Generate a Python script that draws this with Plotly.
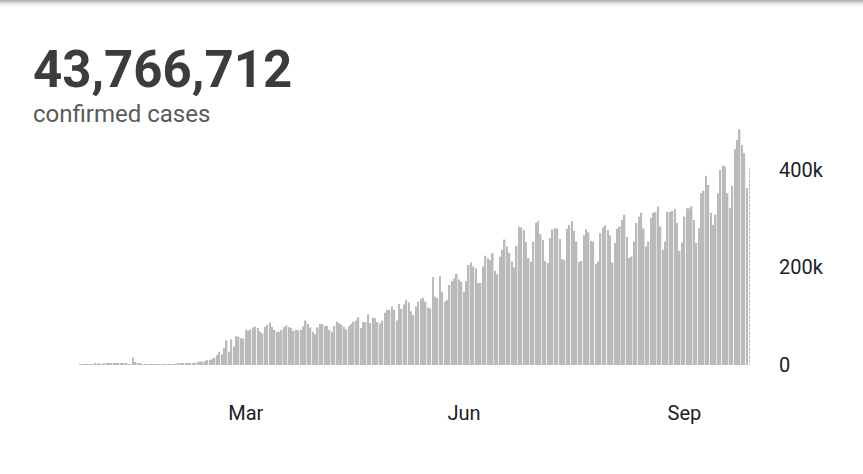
import pandas as pd
import plotly.graph_objects as go

# ---- data (daily confirmed cases, thousands) ----
start_date = "2020-01-22"
daily_cases_k = [
    0.555, 0.098, 0.288, 0.493, 0.684, 0.809, 2.651, 0.588, 2.068, 1.693,
    2.111, 4.749, 3.094, 4.011, 3.743, 3.159, 3.597, 2.729, 3.030, 2.612,
    2.040, 0.419, 15.151, 6.517, 2.145, 2.194, 2.034, 1.880, 0.503, 0.558,
    1.026, 1.035, 0.290, 0.552, 0.911, 1.000, 1.100, 1.400, 1.700, 1.800,
    2.000, 2.500, 2.300, 2.700, 3.900, 4.000, 3.800, 4.000, 4.600, 6.000,
    7, 7, 8, 10, 10, 12, 15, 20, 27, 22,
    35, 50, 27, 52, 38, 59, 58, 55, 54, 72,
    70, 73, 77, 79, 76, 68, 65, 78, 82, 87,
    78, 72, 68, 68, 72, 78, 81, 78, 76, 70,
    72, 71, 72, 79, 91, 84, 77, 68, 63, 77,
    84, 84, 80, 80, 72, 68, 80, 89, 86, 83,
    78, 73, 80, 84, 89, 91, 98, 76, 88, 88,
    104, 86, 97, 96, 88, 85, 91, 107, 113, 113,
    120, 113, 91, 125, 115, 124, 133, 128, 110, 102,
    120, 130, 136, 138, 130, 118, 116, 180, 140, 137,
    182, 150, 130, 133, 164, 172, 177, 187, 175, 171,
    150, 172, 205, 210, 202, 198, 168, 168, 202, 224,
    219, 215, 229, 193, 186, 222, 236, 257, 243, 230,
    212, 200, 244, 284, 282, 276, 252, 219, 212, 253,
    291, 295, 268, 256, 213, 209, 260, 278, 280, 280,
    258, 217, 215, 279, 287, 295, 275, 253, 211, 213,
    266, 278, 272, 254, 253, 207, 212, 270, 282, 286,
    276, 266, 210, 250, 279, 284, 297, 308, 263, 219,
    222, 253, 291, 304, 312, 280, 243, 253, 301, 312,
    313, 325, 284, 236, 253, 314, 314, 316, 319, 291,
    234, 251, 304, 321, 321, 325, 297, 250, 280, 352,
    357, 388, 369, 312, 287, 308, 352, 400, 409, 407,
    352, 321, 367, 442, 461, 483, 451, 434, 362,
]
partial_day_k = [403]  # last (incomplete) day, drawn dashed

total_label = "43,766,712"
subtitle = "confirmed cases"
x_tick_dates = ["2020-03-31", "2020-06-30", "2020-09-30"]
x_tick_text = ["Mar", "Jun", "Sep"]
y_tick_vals = [0, 200, 400]
y_tick_text = ["0", "200k", "400k"]

dates = pd.date_range(start_date, periods=len(daily_cases_k) + len(partial_day_k), freq="D")
full_dates = dates[: len(daily_cases_k)]
partial_dates = dates[len(daily_cases_k):]

BAR = "#bababa"

fig = go.Figure()
fig.add_trace(go.Bar(
    x=full_dates, y=daily_cases_k,
    marker=dict(color=BAR, line=dict(width=0)),
    hoverinfo="skip",
))
fig.add_trace(go.Bar(
    x=partial_dates, y=partial_day_k,
    marker=dict(color="#d0d0d0", line=dict(width=0),
                pattern=dict(shape="-", fgcolor="white", bgcolor="#bdbdbd",
                             size=4, solidity=0.5, fillmode="overlay")),
    hoverinfo="skip",
))

fig.update_layout(
    width=863, height=474,
    margin=dict(l=78, r=109, t=121, b=109),
    paper_bgcolor="white", plot_bgcolor="white",
    showlegend=False,
    bargap=0.36, barmode="overlay",
    font=dict(family="Roboto, Arial, sans-serif", color="#202124"),
    xaxis=dict(
        type="date",
        range=["2020-01-21", "2020-10-29"],
        tickvals=x_tick_dates, ticktext=x_tick_text,
        showgrid=False, zeroline=False, showline=False, ticks="",
        tickfont=dict(size=20, color="#202124"),
        ticklabelstandoff=34,
        fixedrange=True,
    ),
    yaxis=dict(
        range=[0, 500], side="right",
        tickvals=y_tick_vals, ticktext=y_tick_text,
        showgrid=False, zeroline=False, showline=False, ticks="",
        tickfont=dict(size=20, color="#202124"),
        ticklabelstandoff=24,
        fixedrange=True,
    ),
)

fig.add_annotation(
    text=f"<b>{total_label}</b>", xref="paper", yref="paper",
    x=-0.069, y=1.21, xanchor="left", yanchor="middle", showarrow=False,
    font=dict(size=51, color="#3c3c3c", family="Roboto, Arial, sans-serif"),
)
fig.add_annotation(
    text=subtitle, xref="paper", yref="paper",
    x=-0.069, y=1.03, xanchor="left", yanchor="middle", showarrow=False,
    font=dict(size=24, color="#5a5a5a", family="Roboto, Arial, sans-serif"),
)

# soft card-edge shadow at the very top
for k, op in enumerate([0.09, 0.07, 0.055, 0.04, 0.03, 0.02, 0.012, 0.006]):
    fig.add_shape(type="rect", xref="paper", yref="paper",
                  x0=-0.2, x1=1.3, y0=1.496 - (k + 1) * 0.0041, y1=1.5,
                  fillcolor="black", opacity=op, line=dict(width=0), layer="below")

fig.write_html("out.html", config={"displayModeBar": False},
               post_script="document.body.style.margin='0';")
